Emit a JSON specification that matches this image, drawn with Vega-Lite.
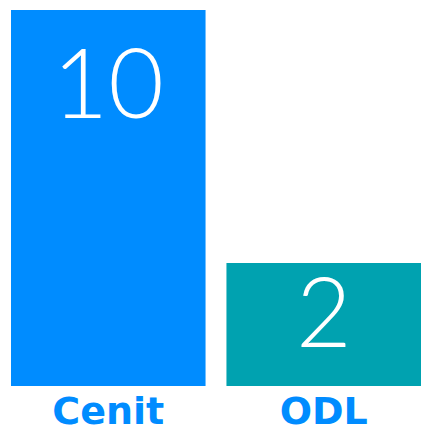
{
  "$schema": "https://vega.github.io/schema/vega-lite/v6.json",
  "width": 410,
  "height": 376,
  "autosize": "none",
  "padding": {"left": 11, "top": 10, "right": 1, "bottom": 46},
  "background": "white",
  "config": {"view": {"stroke": null}},
  "data": {"values": [{"name": "Cenit", "value": 10}, {"name": "ODL", "value": 2}]},
  "encoding": {
    "x": {
      "field": "name",
      "type": "nominal",
      "sort": null,
      "scale": {"paddingInner": 0.097, "paddingOuter": 0},
      "axis": {
        "title": null,
        "labelAngle": 0,
        "domain": false,
        "ticks": false,
        "labelFont": "DejaVu Sans",
        "labelFontWeight": "bold",
        "labelFontSize": 38,
        "labelColor": "#008cff",
        "labelPadding": 7
      }
    }
  },
  "layer": [
    {
      "mark": {"type": "bar"},
      "encoding": {
        "y": {"field": "value", "type": "quantitative", "scale": {"domain": [-1.889, 10]}, "axis": null},
        "y2": {"datum": -1.889},
        "color": {"field": "name", "type": "nominal", "scale": {"range": ["#008cff", "#00a2b0"]}, "legend": null}
      }
    },
    {
      "mark": {"type": "text", "font": "Lato", "fontWeight": 300, "fontSize": 96, "color": "white", "baseline": "alphabetic"},
      "encoding": {
        "y": {"field": "value", "type": "quantitative", "scale": {"domain": [0.638, 13.77]}, "axis": null},
        "text": {"field": "value", "type": "quantitative"}
      }
    }
  ],
  "resolve": {"scale": {"y": "independent"}}
}
